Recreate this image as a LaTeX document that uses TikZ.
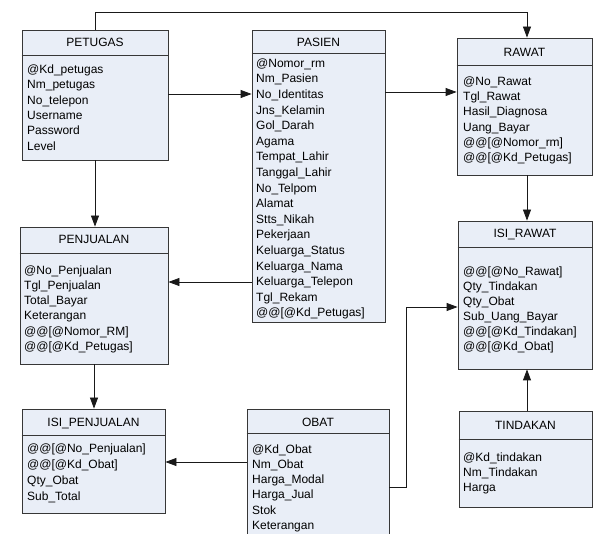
\documentclass[tikz,border=0pt]{standalone}
\usepackage{fontspec}
\setmainfont{Liberation Sans}
\usetikzlibrary{arrows.meta}
\definecolor{boxfill}{RGB}{233,238,247}
\definecolor{boxline}{RGB}{55,55,55}
\definecolor{wire}{RGB}{25,25,25}

% field list of a table: name prefix, left x, first row y, row step, rows
\newcommand{\fieldrows}[5]{%
  \foreach \t [count=\i from 0] in {#5}
    \node[fld] (#1-\i) at (#2, #3+#4*\i) {\t};
}

\begin{document}
\begin{tikzpicture}[x=1pt,y=-1pt,
  tbl/.style={draw=boxline, fill=boxfill, line width=0.8pt, rectangle, inner sep=0pt},
  hdr/.style={font=\fontsize{12}{14}\selectfont, text height=8.6pt, text depth=0pt, inner sep=0pt},
  fld/.style={anchor=west, font=\fontsize{12}{14}\selectfont, text height=8.6pt, text depth=0pt, inner sep=0pt},
  divider/.style={draw=boxline, line width=0.8pt},
  rel/.style={draw=wire, line width=0.8pt, -{Triangle[length=11pt,width=8pt]}}]

\fill[white] (0,0) rectangle (595,534);
\useasboundingbox (0,0) rectangle (595,534);

% ---------- PETUGAS ----------
\node[tbl, minimum width=146pt, minimum height=130pt] (petugas) at (95,95) {};
\draw[divider] (petugas.west |- 0,55) -- (petugas.east |- 0,55);
\node[hdr] (petugas-t) at (95,42) {PETUGAS};
\fieldrows{petugas}{27}{69}{15.4}{@Kd\_petugas,Nm\_petugas,No\_telepon,Username,Password,Level}

% ---------- PASIEN ----------
\node[tbl, minimum width=133pt, minimum height=292pt] (pasien) at (318.5,176) {};
\draw[divider] (pasien.west |- 0,53) -- (pasien.east |- 0,53);
\node[hdr] (pasien-t) at (318.5,42) {PASIEN};
\fieldrows{pasien}{256}{63}{15.6}{@Nomor\_rm,Nm\_Pasien,No\_Identitas,Jns\_Kelamin,Gol\_Darah,Agama,Tempat\_Lahir,Tanggal\_Lahir,No\_Telpom,Alamat,Stts\_Nikah,Pekerjaan,Keluarga\_Status,Keluarga\_Nama,Keluarga\_Telepon,Tgl\_Rekam,@@[@Kd\_Petugas]}

% ---------- RAWAT ----------
\node[tbl, minimum width=135pt, minimum height=137pt] (rawat) at (524.5,106.5) {};
\draw[divider] (rawat.west |- 0,65) -- (rawat.east |- 0,65);
\node[hdr] (rawat-t) at (524.5,52) {RAWAT};
\fieldrows{rawat}{463}{81}{15.3}{@No\_Rawat,Tgl\_Rawat,Hasil\_Diagnosa,Uang\_Bayar,@@[@Nomor\_rm],@@[@Kd\_Petugas]}

% ---------- ISI_RAWAT ----------
\node[tbl, minimum width=134pt, minimum height=148pt] (isirawat) at (525,295) {};
\draw[divider] (isirawat.west |- 0,247) -- (isirawat.east |- 0,247);
\node[hdr] (isirawat-t) at (525,233) {ISI\_RAWAT};
\fieldrows{isirawat}{463}{271}{15.1}{@@[@No\_Rawat],Qty\_Tindakan,Qty\_Obat,Sub\_Uang\_Bayar,@@[@Kd\_Tindakan],@@[@Kd\_Obat]}

% ---------- TINDAKAN ----------
\node[tbl, minimum width=133pt, minimum height=96pt] (tindakan) at (525.5,459) {};
\draw[divider] (tindakan.west |- 0,439) -- (tindakan.east |- 0,439);
\node[hdr] (tindakan-t) at (525.5,425) {TINDAKAN};
\fieldrows{tindakan}{463}{457}{15}{@Kd\_tindakan,Nm\_Tindakan,Harga}

% ---------- PENJUALAN ----------
\node[tbl, minimum width=148pt, minimum height=137pt] (penjualan) at (94,295.5) {};
\draw[divider] (penjualan.west |- 0,253) -- (penjualan.east |- 0,253);
\node[hdr] (penjualan-t) at (94,239) {PENJUALAN};
\fieldrows{penjualan}{24}{270}{15.2}{@No\_Penjualan,Tgl\_Penjualan,Total\_Bayar,Keterangan,@@[@Nomor\_RM],@@[@Kd\_Petugas]}

% ---------- ISI_PENJUALAN ----------
\node[tbl, minimum width=143pt, minimum height=104pt] (isipenjualan) at (93.5,461) {};
\draw[divider] (isipenjualan.west |- 0,435) -- (isipenjualan.east |- 0,435);
\node[hdr] (isipenjualan-t) at (93.5,422) {ISI\_PENJUALAN};
\fieldrows{isipenjualan}{27}{448}{16}{@@[@No\_Penjualan],@@[@Kd\_Obat],Qty\_Obat,Sub\_Total}

% ---------- OBAT ----------
\node[tbl, minimum width=142pt, minimum height=151pt] (obat) at (318,484.5) {};
\draw[divider] (obat.west |- 0,433) -- (obat.east |- 0,433);
\node[hdr] (obat-t) at (318,422) {OBAT};
\fieldrows{obat}{252}{449}{15.2}{@Kd\_Obat,Nm\_Obat,Harga\_Modal,Harga\_Jual,Stok,Keterangan}

% ---------- relations ----------
\coordinate (topleft) at (95,12);
\coordinate (topright) at (527,12);
\coordinate (obatbend) at (406,307);

\draw[rel] (petugas.north) -- (topleft) -- (topright) -- (topright |- rawat.north);
\draw[rel] (petugas.east |- 0,94) -- (pasien.west |- 0,94);
\draw[rel] (pasien.east |- 0,92) -- (rawat.west |- 0,92);
\draw[rel] (petugas.south) -- (petugas.south |- penjualan.north);
\draw[rel] (pasien.west |- 0,282) -- (penjualan.east |- 0,282);
\draw[rel] (topright |- rawat.south) -- (topright |- isirawat.north);
\draw[rel] (topright |- tindakan.north) -- (topright |- isirawat.south);
\draw[rel] (obat.east |- 0,487) -| (obatbend) -- (isirawat.west |- obatbend);
\draw[rel] (penjualan.south) -- (penjualan.south |- isipenjualan.north);
\draw[rel] (obat.west |- 0,462) -- (isipenjualan.east |- 0,462);
\end{tikzpicture}
\end{document}
